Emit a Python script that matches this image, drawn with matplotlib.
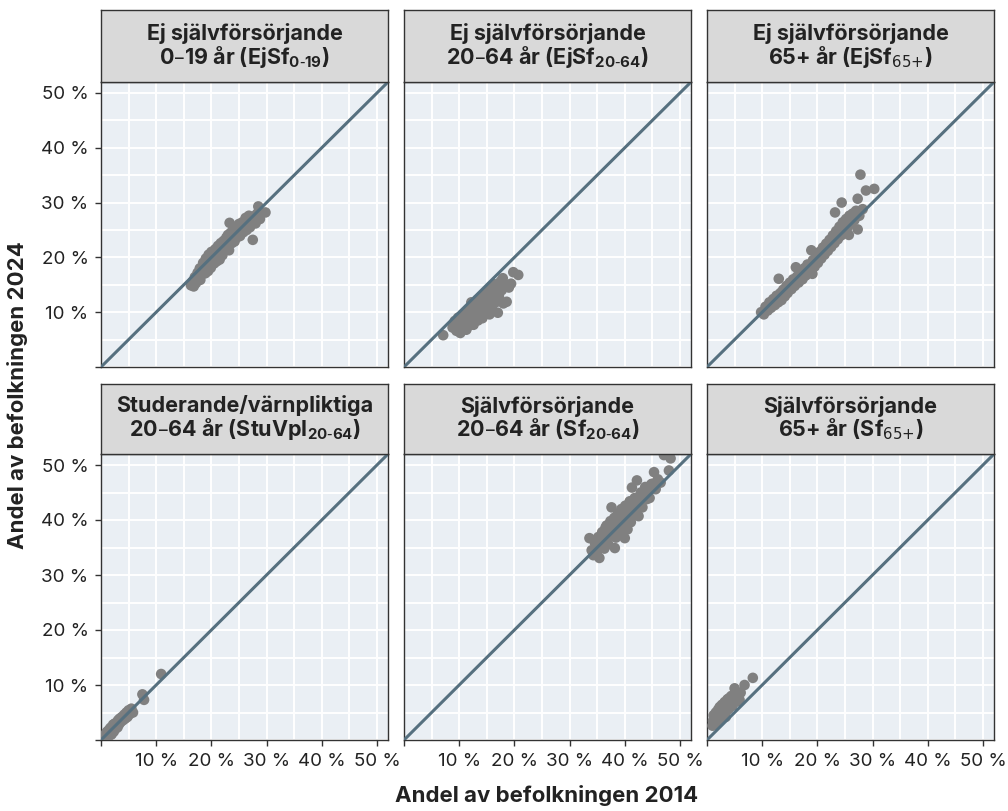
import matplotlib
matplotlib.use("Agg")
import matplotlib.pyplot as plt
import numpy as np

plt.rcParams["font.family"] = ["Inter", "DejaVu Sans"]
plt.rcParams["mathtext.default"] = "regular"

# andel av befolkningen (%) 2014 -> 2024, per kommun
ejsf_0_19 = [
    (16.3, 14.9), (16.6, 15.6), (16.8, 14.7), (17.0, 16.4), (17.2, 15.3), (17.5, 17.2),
    (17.7, 16.1), (17.9, 18.0), (18.0, 15.9), (18.2, 16.8), (18.4, 17.6), (18.5, 19.0),
    (18.7, 18.2), (18.9, 17.1), (19.0, 19.8), (19.2, 18.6), (19.4, 17.5), (19.5, 20.5),
    (19.7, 19.2), (19.9, 18.1), (20.0, 21.0), (20.2, 19.7), (20.4, 20.6), (20.5, 18.9),
    (20.7, 21.5), (20.9, 20.2), (21.0, 19.3), (21.2, 22.1), (21.4, 20.9), (21.5, 19.6),
    (21.7, 22.6), (21.9, 21.3), (22.0, 20.4), (22.2, 23.0), (22.4, 21.8), (22.5, 22.5),
    (22.7, 23.6), (22.9, 22.1), (23.0, 24.1), (23.2, 21.3), (23.4, 23.0), (23.5, 24.5),
    (23.7, 22.6), (23.9, 23.8), (24.0, 25.0), (24.2, 22.9), (24.4, 24.3), (24.5, 25.6),
    (24.7, 23.7), (24.9, 24.9), (25.0, 26.1), (25.2, 23.9), (25.4, 25.3), (25.6, 26.4),
    (25.8, 24.6), (26.0, 25.8), (26.2, 27.2), (26.4, 25.0), (26.6, 26.3), (26.8, 27.6),
    (27.0, 25.5), (27.2, 26.8), (27.5, 23.2), (27.7, 27.5), (28.0, 26.2), (28.3, 28.0),
    (28.5, 29.3), (28.8, 27.0), (29.8, 28.2), (23.3, 26.3),
]
ejsf_20_64 = [
    (7.1, 5.8), (8.8, 7.2), (9.2, 8.4), (9.5, 6.6), (9.8, 9.0), (10.0, 7.5), (10.2, 6.2),
    (10.4, 8.6), (10.6, 9.6), (10.8, 7.0), (11.0, 8.0), (11.2, 9.9), (11.3, 6.8), (11.5, 8.9),
    (11.7, 10.5), (11.9, 7.6), (12.0, 9.5), (12.2, 11.2), (12.3, 8.3), (12.5, 10.2),
    (12.6, 7.7), (12.8, 11.6), (13.0, 9.0), (13.1, 10.8), (13.3, 12.3), (13.4, 8.5),
    (13.6, 11.2), (13.8, 9.7), (13.9, 12.8), (14.1, 10.4), (14.2, 8.9), (14.4, 11.8),
    (14.6, 13.3), (14.7, 9.8), (14.9, 12.3), (15.0, 10.8), (15.2, 13.8), (15.4, 11.5),
    (15.5, 9.6), (15.7, 14.6), (15.9, 12.4), (16.0, 10.5), (16.2, 13.5), (16.4, 15.1),
    (16.6, 11.8), (16.8, 14.2), (17.0, 9.9), (17.2, 12.9), (17.5, 15.6), (17.7, 14.0),
    (18.0, 11.6), (18.3, 15.0), (18.6, 11.9), (19.0, 14.5), (19.4, 15.2), (19.8, 17.3),
    (20.7, 16.8), (17.9, 16.2), (12.2, 11.8),
]
ejsf_65 = [
    (9.8, 10.0), (10.3, 9.6), (10.6, 11.0), (11.0, 10.3), (11.3, 11.8), (11.6, 10.8),
    (12.0, 12.4), (12.3, 11.3), (12.6, 13.0), (12.9, 11.8), (13.0, 16.1), (13.3, 13.5),
    (13.5, 12.2), (13.8, 14.1), (14.1, 12.9), (14.4, 14.8), (14.6, 13.5), (15.0, 15.4),
    (15.3, 14.2), (15.6, 16.0), (15.9, 14.8), (16.1, 18.2), (16.3, 16.5), (16.6, 15.4),
    (17.0, 17.2), (17.3, 16.0), (17.6, 18.0), (17.9, 16.7), (18.2, 18.7), (18.5, 17.4),
    (18.9, 21.3), (19.1, 17.0), (19.2, 19.5), (19.5, 18.3), (19.8, 20.3), (20.1, 19.0),
    (20.4, 21.0), (20.7, 19.8), (21.0, 21.8), (21.3, 20.5), (21.6, 22.5), (21.9, 21.2),
    (22.2, 23.2), (22.5, 21.9), (22.8, 24.0), (23.1, 22.6), (23.2, 28.2), (23.4, 24.8),
    (23.7, 23.3), (24.0, 25.6), (24.3, 24.0), (24.4, 30.0), (24.6, 26.4), (24.9, 24.8),
    (25.2, 27.0), (25.5, 25.5), (25.7, 24.1), (25.8, 27.6), (26.1, 26.2), (26.4, 28.0),
    (26.7, 26.8), (27.0, 28.5), (27.3, 25.1), (27.3, 30.7), (27.6, 27.6), (27.8, 35.1),
    (28.2, 28.8), (28.8, 32.2), (30.3, 32.5),
]
stuvpl_20_64 = [
    (0.3, 0.2), (0.5, 0.6), (0.6, 0.3), (0.8, 1.0), (0.9, 0.5), (1.0, 1.4), (1.1, 0.8),
    (1.2, 1.6), (1.3, 1.1), (1.4, 0.7), (1.5, 1.9), (1.6, 1.3), (1.7, 2.2), (1.8, 1.6),
    (1.9, 1.0), (2.0, 2.4), (2.1, 1.8), (2.2, 2.8), (2.3, 1.5), (2.4, 2.2), (2.5, 3.0),
    (2.6, 2.0), (2.7, 2.6), (2.9, 3.2), (3.0, 2.3), (3.1, 3.6), (3.3, 2.9), (3.4, 3.9),
    (3.6, 3.3), (3.8, 4.2), (4.0, 3.6), (4.2, 4.6), (4.4, 3.9), (4.6, 5.0), (4.8, 4.2),
    (5.0, 5.4), (5.2, 4.7), (5.5, 5.7), (5.8, 5.0), (7.5, 8.3), (7.8, 7.3), (10.9, 12.0),
]
sf_20_64 = [
    (33.6, 36.7), (34.0, 34.5), (34.3, 33.6), (34.6, 35.8), (35.0, 34.3), (35.2, 36.9),
    (35.4, 33.1), (35.6, 35.4), (35.9, 37.8), (36.1, 36.0), (36.3, 34.8), (36.5, 38.6),
    (36.7, 39.0), (36.8, 36.9), (37.0, 35.6), (37.2, 38.0), (37.4, 39.8), (37.6, 42.3),
    (37.7, 37.2), (37.9, 38.8), (38.1, 40.4), (38.2, 34.9), (38.4, 36.8), (38.6, 39.6),
    (38.8, 41.2), (39.0, 38.0), (39.2, 40.3), (39.4, 42.0), (39.6, 39.0), (39.8, 41.0),
    (40.0, 36.7), (40.1, 42.6), (40.3, 40.0), (40.5, 38.3), (40.7, 41.8), (40.9, 43.4),
    (41.1, 39.6), (41.3, 45.9), (41.4, 42.4), (41.6, 40.8), (41.8, 44.0), (42.0, 42.6),
    (42.2, 47.2), (42.3, 41.0), (42.5, 40.7), (42.7, 43.5), (42.9, 45.0), (43.2, 42.3),
    (43.4, 44.4), (43.7, 46.0), (44.0, 43.8), (44.2, 45.4), (44.5, 44.0), (44.8, 46.5),
    (45.0, 46.6), (45.3, 48.7), (45.6, 45.6), (46.0, 47.4), (46.5, 46.8), (47.1, 51.8),
    (48.0, 49.0), (48.3, 51.2),
]
sf_65 = [
    (1.0, 2.6), (1.1, 3.5), (1.2, 4.5), (1.3, 2.9), (1.5, 3.9), (1.6, 5.0), (1.7, 3.2),
    (1.8, 4.4), (2.0, 5.5), (2.1, 3.6), (2.2, 4.8), (2.3, 6.0), (2.5, 4.1), (2.6, 5.3),
    (2.7, 6.4), (2.9, 4.5), (3.0, 5.8), (3.2, 6.9), (3.3, 5.0), (3.4, 4.2), (3.6, 6.3),
    (3.7, 7.4), (3.9, 5.6), (4.0, 7.6), (4.2, 6.6), (4.4, 8.0), (4.6, 6.2), (4.8, 7.4),
    (5.0, 9.4), (5.2, 8.1), (5.5, 7.0), (5.9, 7.3), (6.1, 8.6), (6.8, 10.0), (8.3, 11.3),
]

titles = [
    "Ej självförsörjande\n0–19 år (EjSf$_{0\\text{-}19}$)",
    "Ej självförsörjande\n20–64 år (EjSf$_{20\\text{-}64}$)",
    "Ej självförsörjande\n65+ år (EjSf$_{\\text{65+}}$)",
    "Studerande/värnpliktiga\n20–64 år (StuVpl$_{20\\text{-}64}$)",
    "Självförsörjande\n20–64 år (Sf$_{20\\text{-}64}$)",
    "Självförsörjande\n65+ år (Sf$_{\\text{65+}}$)",
]
panels = [ejsf_0_19, ejsf_20_64, ejsf_65, stuvpl_20_64, sf_20_64, sf_65]

ticks = [0, 10, 20, 30, 40, 50]
tick_labels = ["", "10 %", "20 %", "30 %", "40 %", "50 %"]
minor = [5, 15, 25, 35, 45]

W, H = 1008, 811
fig = plt.figure(figsize=(W / 100, H / 100), dpi=100)

col_left = [101, 404, 707]
pw = 287
rows = [(10, 82, 367), (384, 454, 740)]  # strip top, panel top, panel bottom


def px_axes(x0, y0, x1, y1):
    return fig.add_axes([x0 / W, 1 - y1 / H, (x1 - x0) / W, (y1 - y0) / H])


for i, (title, pts) in enumerate(zip(titles, panels)):
    r, c = divmod(i, 3)
    st, pt, pb = rows[r]
    x0 = col_left[c]
    ax = px_axes(x0, pt, x0 + pw, pb)
    sax = px_axes(x0, st, x0 + pw, pt)

    ax.set_facecolor("#eaeff4")
    ax.set_axisbelow(True)
    ax.set_xlim(0, 52)
    ax.set_ylim(0, 52)
    ax.set_xticks(ticks)
    ax.set_yticks(ticks)
    ax.set_xticks(minor, minor=True)
    ax.set_yticks(minor, minor=True)
    ax.grid(True, which="both", color="white", linewidth=1.4)
    ax.tick_params(which="minor", length=0)
    ax.tick_params(which="major", length=4, width=1, color="#333333",
                   labelsize=13.5, labelcolor="#222222", pad=5)
    if r == 1:
        ax.set_xticklabels(tick_labels)
    else:
        ax.tick_params(axis="x", length=0, labelbottom=False)
    if c == 0:
        ax.set_yticklabels(tick_labels)
    else:
        ax.tick_params(axis="y", length=0, labelleft=False)
    for s in ax.spines.values():
        s.set_color("#333333")
        s.set_linewidth(1.0)

    xy = np.array(pts)
    ax.scatter(xy[:, 0], xy[:, 1], s=58, color="#808080", edgecolors="none", zorder=3)
    ax.axline((0, 0), slope=1, color="#56707f", linewidth=2.2, zorder=4)

    sax.set_facecolor("#d9d9d9")
    sax.set_xticks([])
    sax.set_yticks([])
    for s in sax.spines.values():
        s.set_color("#333333")
        s.set_linewidth(1.0)
    sax.text(0.5, 0.5, title, ha="center", va="center", fontsize=15.5,
             fontweight="bold", color="#222222", linespacing=1.0,
             transform=sax.transAxes)

fig.text(547 / W, 1 - 796 / H, "Andel av befolkningen 2014", ha="center",
         va="center", fontsize=16, fontweight="bold", color="#222222")
fig.text(18 / W, 1 - 395 / H, "Andel av befolkningen 2024", ha="center",
         va="center", rotation=90, fontsize=16, fontweight="bold", color="#222222")

fig.savefig("out.png", dpi=100)
